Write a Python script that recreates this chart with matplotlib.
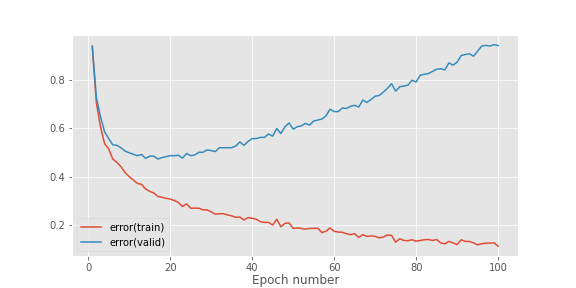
import numpy as np
import matplotlib
matplotlib.use('Agg')
import matplotlib.pyplot as plt

plt.style.use('ggplot')

epochs = np.arange(1, 101)
err_train = [
    0.941, 0.706, 0.607, 0.537, 0.515, 0.473, 0.459, 0.441, 0.417, 0.400,
    0.386, 0.372, 0.368, 0.349, 0.339, 0.332, 0.318, 0.314, 0.310, 0.307,
    0.301, 0.293, 0.276, 0.287, 0.269, 0.269, 0.269, 0.262, 0.262, 0.254,
    0.244, 0.246, 0.246, 0.241, 0.237, 0.231, 0.232, 0.220, 0.230, 0.227,
    0.223, 0.213, 0.210, 0.210, 0.199, 0.223, 0.192, 0.206, 0.208, 0.185,
    0.187, 0.185, 0.182, 0.185, 0.185, 0.186, 0.168, 0.173, 0.187, 0.173,
    0.170, 0.169, 0.163, 0.159, 0.163, 0.148, 0.159, 0.152, 0.154, 0.152,
    0.146, 0.149, 0.158, 0.156, 0.128, 0.142, 0.135, 0.134, 0.138, 0.132,
    0.135, 0.138, 0.139, 0.135, 0.139, 0.125, 0.121, 0.131, 0.125, 0.118,
    0.138, 0.131, 0.131, 0.125, 0.117, 0.121, 0.124, 0.124, 0.125, 0.111,
]
err_valid = [
    0.941, 0.727, 0.649, 0.586, 0.558, 0.532, 0.530, 0.520, 0.506, 0.499,
    0.493, 0.487, 0.492, 0.476, 0.485, 0.485, 0.473, 0.479, 0.483, 0.487,
    0.487, 0.489, 0.477, 0.496, 0.487, 0.490, 0.501, 0.501, 0.511, 0.508,
    0.504, 0.520, 0.520, 0.520, 0.520, 0.527, 0.544, 0.530, 0.546, 0.558,
    0.558, 0.563, 0.563, 0.577, 0.568, 0.600, 0.579, 0.607, 0.623, 0.597,
    0.607, 0.611, 0.621, 0.614, 0.631, 0.635, 0.639, 0.652, 0.680, 0.670,
    0.670, 0.685, 0.683, 0.692, 0.696, 0.689, 0.718, 0.708, 0.720, 0.734,
    0.737, 0.751, 0.766, 0.786, 0.755, 0.773, 0.776, 0.780, 0.800, 0.793,
    0.821, 0.825, 0.828, 0.837, 0.846, 0.848, 0.843, 0.872, 0.863, 0.875,
    0.903, 0.907, 0.910, 0.900, 0.921, 0.942, 0.945, 0.942, 0.948, 0.944,
]

fig = plt.figure(figsize=(8, 4), dpi=72)
ax = fig.add_subplot(111)
ax.plot(epochs, err_train, label='error(train)')
ax.plot(epochs, err_valid, label='error(valid)')
ax.legend(loc=0)
ax.set_xlabel('Epoch number', labelpad=1)

fig.savefig('out.png', dpi=72)
